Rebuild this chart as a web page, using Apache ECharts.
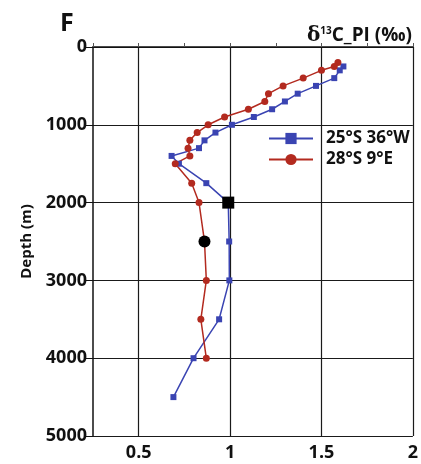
<!DOCTYPE html>
<html>
<head>
<meta charset="utf-8">
<script src="https://cdn.jsdelivr.net/npm/echarts@6/dist/echarts.min.js"></script>
<style>
  html, body { margin: 0; padding: 0; background: #fff; }
  #chart { width: 421px; height: 464px; }
</style>
</head>
<body>
<div id="chart"></div>
<script>
// 25°S 36°W profile
const blueDepth = [250, 300, 400, 500, 600, 700, 800, 900, 1000, 1100, 1200, 1300, 1400, 1500, 1750, 2000, 2500, 3000, 3500, 4000, 4500];
const blueD13C = [1.62, 1.60, 1.57, 1.47, 1.37, 1.30, 1.23, 1.13, 1.01, 0.92, 0.86, 0.83, 0.68, 0.72, 0.87, 0.99, 0.995, 0.996, 0.94, 0.80, 0.69];
// 28°S 9°E profile
const redDepth = [200, 250, 300, 400, 500, 600, 700, 800, 900, 1000, 1100, 1200, 1300, 1400, 1500, 1750, 2000, 2500, 3000, 3500, 4000];
const redD13C = [1.59, 1.57, 1.50, 1.40, 1.29, 1.21, 1.19, 1.10, 0.97, 0.88, 0.82, 0.78, 0.77, 0.78, 0.70, 0.79, 0.83, 0.86, 0.87, 0.84, 0.87];
// black markers (core sites)
const squarePoint = [0.99, 2000];
const circlePoint = [0.86, 2500];

const seriesNames = ['25°S 36°W', '28°S 9°E'];
const xTicks = [0.5, 1, 1.5, 2];
const yTicks = [0, 1000, 2000, 3000, 4000, 5000];

const font = '"Open Sans", "DejaVu Sans", sans-serif';
const blue = '#3a44b2';
const red = '#b32a1f';

function pairs(xs, ys) {
    return xs.map((x, i) => [x, ys[i]]);
}

const chart = echarts.init(document.getElementById('chart'));
chart.setOption({
    backgroundColor: '#fff',
    animation: false,
    title: [
        {
            text: 'F',
            left: 55,
            top: 6,
            textStyle: { fontFamily: font, fontSize: 25, fontWeight: 'bold', color: '#111' }
        },
        {
            text: '{d|δ}{s|13}{t|C_PI (‰)}',
            right: 4,
            top: 21,
            textStyle: {
                rich: {
                    d: { fontFamily: '"DejaVu Serif", serif', fontSize: 20, color: '#111' },
                    s: { fontFamily: font, fontSize: 10, fontWeight: 'bold', color: '#111', verticalAlign: 'top', padding: [0, 0, 7, 0] },
                    t: { fontFamily: font, fontSize: 19, fontWeight: 'bold', color: '#111' }
                }
            }
        }
    ],
    legend: {
        data: seriesNames,
        orient: 'vertical',
        left: 263,
        top: 125,
        itemWidth: 44,
        itemHeight: 14,
        itemGap: 4,
        textStyle: { fontFamily: font, fontSize: 17, fontWeight: 'bold', color: '#111', padding: [0, 0, 0, 8] }
    },
    grid: { left: 93, right: 8, top: 47, bottom: 28 },
    xAxis: {
        type: 'value',
        min: 0.25,
        max: 2,
        interval: 0.25,
        axisLine: { show: true, lineStyle: { color: '#111', width: 1.5 } },
        axisTick: { show: true, inside: true, length: 4, lineStyle: { color: '#555' } },
        axisLabel: {
            margin: 8,
            fontFamily: font,
            fontSize: 18,
            fontWeight: 'bold',
            color: '#111',
            formatter: v => xTicks.some(t => Math.abs(t - v) < 1e-6) ? String(v) : ''
        },
        splitLine: { show: true, lineStyle: { color: ['rgba(0,0,0,0)', '#1a1a1a'], width: 1.2 } }
    },
    yAxis: {
        type: 'value',
        inverse: true,
        min: yTicks[0],
        max: yTicks[yTicks.length - 1],
        interval: 1000,
        name: 'Depth (m)',
        nameLocation: 'middle',
        nameGap: 59,
        nameTextStyle: { fontFamily: font, fontSize: 15, fontWeight: 'bold', color: '#111' },
        axisLine: { show: true, lineStyle: { color: '#111', width: 1.5 } },
        axisTick: { show: true, length: 9, lineStyle: { color: '#111' } },
        axisLabel: { margin: 6, fontFamily: font, fontSize: 18, fontWeight: 'bold', color: '#111', formatter: v => String(v) },
        splitLine: { show: true, lineStyle: { color: '#1a1a1a', width: 1.2 } }
    },
    series: [
        {
            name: seriesNames[0],
            type: 'line',
            data: pairs(blueD13C, blueDepth),
            symbol: 'rect',
            symbolSize: 6,
            color: blue,
            lineStyle: { color: blue, width: 1.5 },
            itemStyle: { color: blue },
            z: 3
        },
        {
            name: seriesNames[1],
            type: 'line',
            data: pairs(redD13C, redDepth),
            symbol: 'circle',
            symbolSize: 7,
            color: red,
            lineStyle: { color: red, width: 1.5 },
            itemStyle: { color: red },
            z: 3
        },
        {
            name: 'site square',
            type: 'scatter',
            data: [squarePoint],
            symbol: 'rect',
            symbolSize: 12,
            itemStyle: { color: '#000', opacity: 1 },
            z: 5
        },
        {
            name: 'site circle',
            type: 'scatter',
            data: [circlePoint],
            symbol: 'circle',
            symbolSize: 12,
            itemStyle: { color: '#000', opacity: 1 },
            z: 5
        }
    ]
});
</script>
</body>
</html>
